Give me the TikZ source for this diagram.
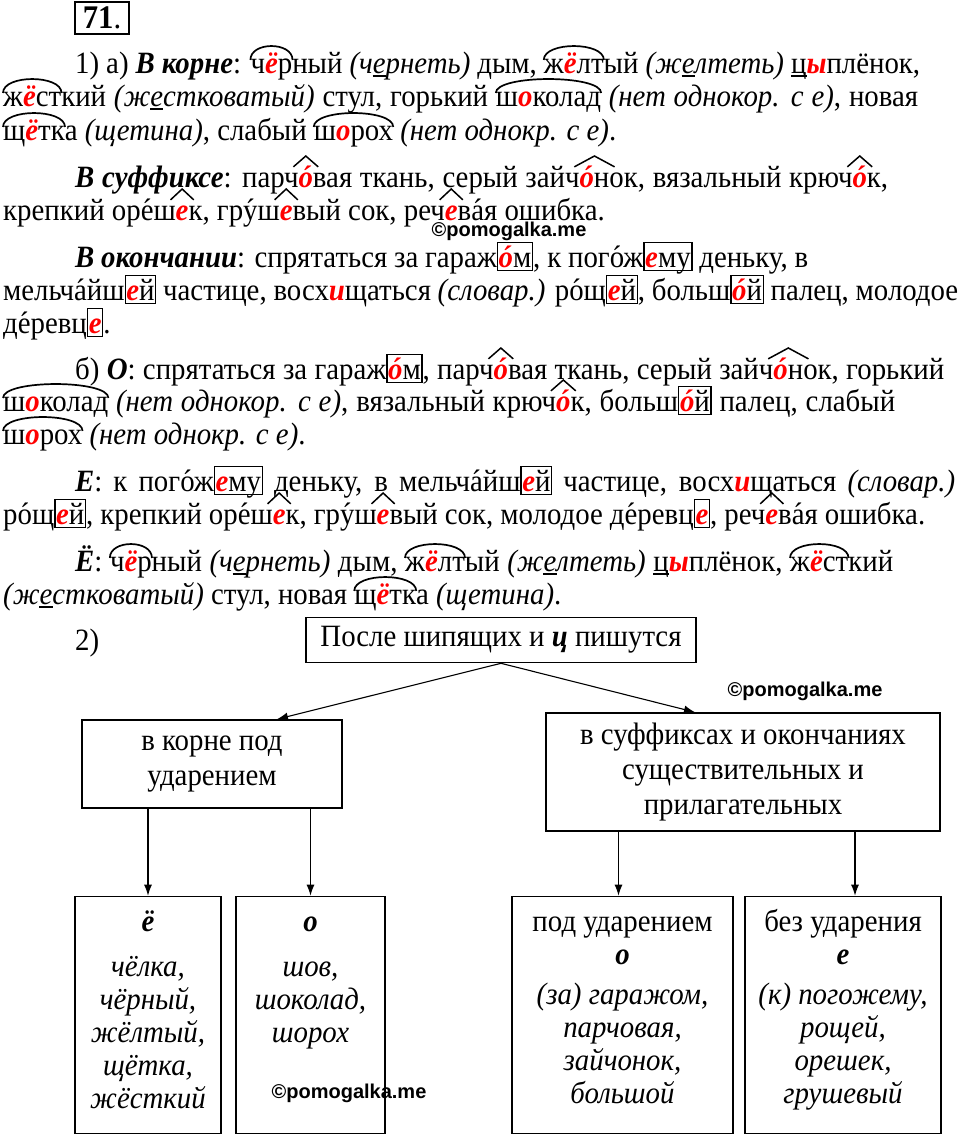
\documentclass[tikz,border=0pt]{standalone}
\usepackage{fontspec}
\setmainfont{Liberation Serif}[FakeStretch=0.93]
\newfontfamily\wmfont{Liberation Sans}
\usetikzlibrary{positioning,arrows.meta}

\newcommand{\ac}[1]{{\accent"B4 #1}}
\newcommand{\rd}[1]{\textcolor{red}{\bfseries\itshape #1}}
\newcommand{\bi}[1]{\textbf{\textit{#1}}}
% root arc
\newcommand{\ra}[1]{\tikz[baseline=(r.base)]{\node[inner sep=0pt](r){#1};
  \draw[overlay,line width=1.7pt] ([yshift=0.42em]r.base west) .. controls ([yshift=1.02em]r.base west) and ([yshift=1.02em]r.base east) .. ([yshift=0.42em]r.base east);}}
% suffix hat
\newcommand{\hc}[1]{\tikz[baseline=(h.base)]{\node[inner sep=0pt](h){#1};
  \draw[overlay,line width=1.5pt] ([xshift=-5pt,yshift=0.65em]h.base west) -- ([yshift=1.0em]h.base) -- ([xshift=5pt,yshift=0.65em]h.base east);}}
% ending box
\newcommand{\bx}[1]{\tikz[baseline=(b.base)]\node[draw,line width=1.3pt,inner xsep=1.2pt,inner ysep=0pt,text height=0.78em,text depth=0.12em](b){#1};}
% underline
\newcommand{\ud}[1]{\tikz[baseline=(u.base)]{\node[inner sep=0pt](u){#1};
  \draw[overlay,line width=1.5pt] ([yshift=-3pt]u.base west) -- ([yshift=-3pt]u.base east);}}

\begin{document}
\begin{tikzpicture}[x=1pt,y=-1pt,font=\fontsize{31}{33}\selectfont,
  ln/.style={anchor=base west,inner sep=0pt},
  box/.style={draw,line width=1.6pt,align=center,inner sep=0pt,font=\fontsize{31}{35}\selectfont},
  lst/.style={align=center,inner sep=0pt,font=\fontsize{31}{33}\selectfont},
  wm/.style={font=\wmfont\bfseries\fontsize{20}{20}\selectfont,inner sep=0pt},
  arr/.style={line width=1.1pt,-{Latex[length=11pt,width=8pt]}}]
\useasboundingbox (0,0) rectangle (960,1138);

\node[draw,line width=2.8pt,inner sep=0pt,minimum width=54pt,minimum height=32pt,font=\fontsize{33}{33}\selectfont] (num) at (102,18) {\textbf{71}.};

% 1)
\node[ln] (l1) at (75,73) {\makebox[845pt][s]{1) а) \bi{В корне}: \ra{ч\rd{ё}р}ный \textit{(ч\ud{е}рнеть)} дым, \ra{ж\rd{ё}лт}ый \textit{(ж\ud{е}лтеть)} \ud{ц}\rd{ы}плёнок,}};
\node[ln] (l2) at (3,106) {\makebox[915pt][s]{\ra{ж\rd{ё}ст}кий \textit{(ж\ud{е}стковатый)} стул, горький \ra{ш\rd{о}колад} \textit{(нет однокор. с е)}, новая}};
\node[ln] (l3) at (3,140) {\ra{щ\rd{ё}тк}а \textit{(щетина)}, слабый \ra{ш\rd{о}рох} \textit{(нет однокр. с е)}.};
\node[ln] (l4) at (75,187) {\makebox[813pt][s]{\bi{В суффиксе}: парч\hc{\rd{\ac{о}}}вая ткань, серый зайч\hc{\rd{\ac{о}}н}ок, вязальный крюч\hc{\rd{\ac{о}}}к,}};
\node[ln] (l5) at (3,220) {крепкий ор\ac{е}ш\hc{\rd{е}}к, гр\ac{у}ш\hc{\rd{е}}вый сок, реч\hc{\rd{е}}в\ac{а}я ошибка.};
\node[ln] (l6) at (75,267) {\makebox[733pt][s]{\bi{В окончании}: спрятаться за гараж\bx{\rd{\ac{о}}м}, к пог\ac{о}ж\bx{\rd{е}му} деньку, в}};
\node[ln] (l7) at (3,300) {\makebox[955pt][s]{мельч\ac{а}йш\bx{\rd{е}й} частице, восх\rd{и}щаться \textit{(словар.)} р\ac{о}щ\bx{\rd{е}й}, больш\bx{\rd{\ac{о}}й} палец, молодое}};
\node[ln] (l8) at (3,333) {д\ac{е}ревц\bx{\rd{е}}.};
\node[ln] (l9) at (75,379) {\makebox[869pt][s]{б) \bi{О}: спрятаться за гараж\bx{\rd{\ac{о}}м}, парч\hc{\rd{\ac{о}}}вая ткань, серый зайч\hc{\rd{\ac{о}}н}ок, горький}};
\node[ln] (l10) at (3,411) {\makebox[892pt][s]{\ra{ш\rd{о}колад} \textit{(нет однокор. с е)}, вязальный крюч\hc{\rd{\ac{о}}}к, больш\bx{\rd{\ac{о}}й} палец, слабый}};
\node[ln] (l11) at (3,444) {\ra{ш\rd{о}рох} \textit{(нет однокр. с е)}.};
\node[ln] (l12) at (75,491) {\makebox[880pt][s]{\bi{Е}: к пог\ac{о}ж\bx{\rd{е}му} деньку, в мельч\ac{а}йш\bx{\rd{е}й} частице, восх\rd{и}щаться \textit{(словар.)}}};
\node[ln] (l13) at (3,524) {\makebox[922pt][s]{р\ac{о}щ\bx{\rd{е}й}, крепкий ор\ac{е}ш\hc{\rd{е}}к, гр\ac{у}ш\hc{\rd{е}}вый сок, молодое д\ac{е}ревц\bx{\rd{е}}, реч\hc{\rd{е}}в\ac{а}я ошибка.}};
\node[ln] (l14) at (75,571) {\makebox[818pt][s]{\bi{Ё}: \ra{ч\rd{ё}р}ный \textit{(ч\ud{е}рнеть)} дым, \ra{ж\rd{ё}лт}ый \textit{(ж\ud{е}лтеть)} \ud{ц}\rd{ы}плёнок, \ra{ж\rd{ё}ст}кий}};
\node[ln] (l15) at (3,604) {\textit{(ж\ud{е}стковатый)} стул, новая \ra{щ\rd{ё}тк}а \textit{(щетина)}.};

\node[wm] (wm1) at (509,231) {©pomogalka.me};

% 2)
\node[ln] (two) at (75,650) {2)};
\node[box,minimum width=390pt,minimum height=45pt] (head) at (501,640) {После шипящих и \bi{ц} пишутся};
\node[wm] (wm2) at (805,691) {©pomogalka.me};
\node[box,minimum width=260pt,minimum height=88pt] (kor) at (212,764) {в корне под\\ударением};
\node[box,minimum width=394pt,minimum height=118pt] (suf) at (743,772) {в суффиксах и окончаниях\\существительных и\\прилагательных};

\node[box,minimum width=146pt,minimum height=237pt] (yo) at (148,1015) {};
\node[box,minimum width=149pt,minimum height=237pt] (oo) at (310.5,1015) {};
\node[box,minimum width=221pt,minimum height=237pt] (pod) at (622.5,1015) {};
\node[box,minimum width=196pt,minimum height=237pt] (bez) at (843,1015) {};

\node[lst,below=12pt of yo.north] (tyo) {\strut\bi{ё}\\[12pt]\textit{чёлка,}\\\textit{чёрный,}\\\textit{жёлтый,}\\\textit{щётка,}\\\textit{жёсткий}};
\node[lst,below=12pt of oo.north] (too) {\strut\bi{о}\\[12pt]\textit{шов,}\\\textit{шоколад,}\\\textit{шорох}};
\node[lst,below=12pt of pod.north] (tpod) {\strut под ударением\\\bi{о}\\[7pt]\textit{(за) гаражом,}\\\textit{парчовая,}\\\textit{зайчонок,}\\\textit{большой}};
\node[lst,below=12pt of bez.north] (tbez) {\strut без ударения\\\bi{е}\\[7pt]\textit{(к) погожему,}\\\textit{рощей,}\\\textit{орешек,}\\\textit{грушевый}};
\node[wm] (wm3) at (349,1093) {©pomogalka.me};

\draw[arr] (head.south) -- ([xshift=65pt]kor.north);
\draw[arr] (head.south) -- ([xshift=-48pt]suf.north);
\draw[arr] (yo.north |- kor.south) -- (yo.north);
\draw[arr] (oo.north |- kor.south) -- (oo.north);
\draw[arr] ([xshift=-4pt]pod.north |- suf.south) -- ([xshift=-4pt]pod.north);
\draw[arr] ([xshift=12pt]bez.north |- suf.south) -- ([xshift=12pt]bez.north);
\end{tikzpicture}
\end{document}
